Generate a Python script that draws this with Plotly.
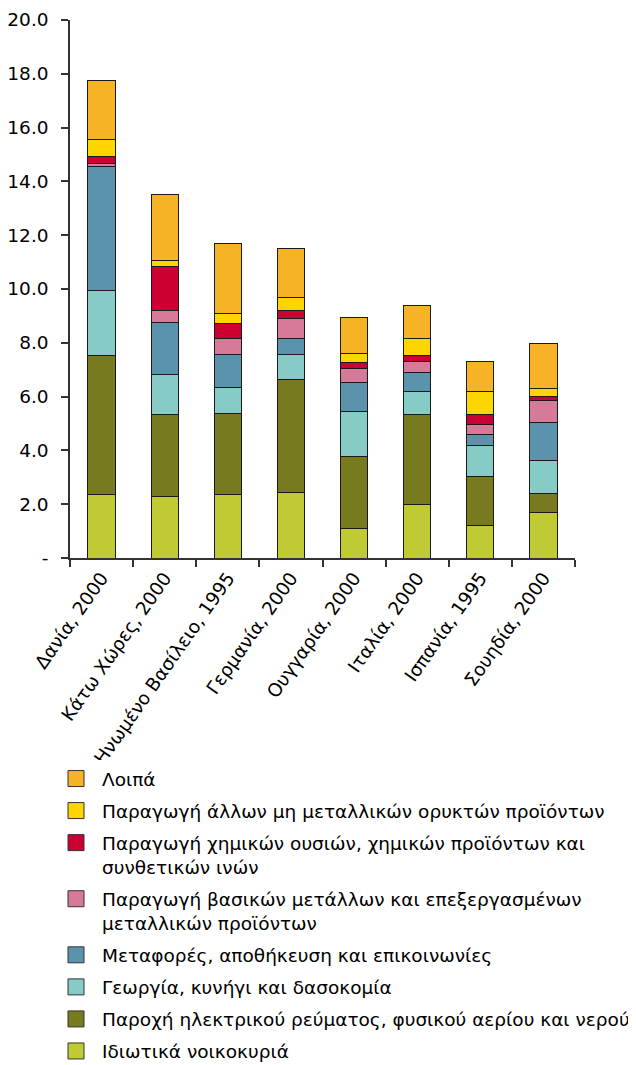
import plotly.graph_objects as go

categories = ["Δανία, 2000", "Κάτω Χώρες, 2000", "Ηνωμένο Βασίλειο, 1995", "Γερμανία, 2000",
              "Ουγγαρία, 2000", "Ιταλία, 2000", "Ισπανία, 1995", "Σουηδία, 2000"]

# stacked from bottom to top
series_names = [
    "Ιδιωτικά νοικοκυριά",
    "Παροχή ηλεκτρικού ρεύματος, φυσικού αερίου και νερού",
    "Γεωργία, κυνήγι και δασοκομία",
    "Μεταφορές, αποθήκευση και επικοινωνίες",
    "Παραγωγή βασικών μετάλλων και επεξεργασμένων<br>μεταλλικών προϊόντων",
    "Παραγωγή χημικών ουσιών, χημικών προϊόντων και<br>συνθετικών ινών",
    "Παραγωγή άλλων μη μεταλλικών ορυκτών προϊόντων",
    "Λοιπά",
]

households = [2.35, 2.29, 2.35, 2.45, 1.09, 2.00, 1.19, 1.71]
electricity = [5.16, 3.04, 3.03, 4.19, 2.67, 3.33, 1.83, 0.70]
agriculture = [2.42, 1.51, 0.97, 0.92, 1.68, 0.87, 1.15, 1.20]
transport = [4.64, 1.92, 1.20, 0.61, 1.10, 0.70, 0.41, 1.41]
basic_metals = [0.08, 0.45, 0.60, 0.74, 0.50, 0.40, 0.39, 0.82]
chemicals = [0.29, 1.63, 0.57, 0.30, 0.21, 0.22, 0.36, 0.16]
non_metallic = [0.61, 0.22, 0.36, 0.46, 0.36, 0.65, 0.87, 0.30]
other = [2.20, 2.46, 2.62, 1.84, 1.32, 1.21, 1.11, 1.67]

series_values = [households, electricity, agriculture, transport,
                 basic_metals, chemicals, non_metallic, other]

colors = ["#C0CA35", "#787A1F", "#86CBC5", "#5A93AB",
          "#D57B99", "#CC0033", "#FFD500", "#F6B325"]

y_tickvals = [0, 2, 4, 6, 8, 10, 12, 14, 16, 18, 20]
y_ticktext = ["-", "2.0", "4.0", "6.0", "8.0", "10.0", "12.0", "14.0", "16.0", "18.0", "20.0"]

FONT = "DejaVu Sans"
FS = 18.5

fig = go.Figure()
for name, vals, col in zip(series_names, series_values, colors):
    fig.add_trace(go.Bar(
        x=categories, y=vals, name=name, showlegend=False,
        marker=dict(color=col, line=dict(color="#1a1a1a", width=1)),
        width=0.43,
    ))
# legend entries (larger square symbols), top item = top of stack
for name, col in reversed(list(zip(series_names, colors))):
    fig.add_trace(go.Scatter(
        x=[None], y=[None], mode="markers", name=name,
        marker=dict(symbol="square", size=16, color=col,
                    line=dict(color="#333333", width=1)),
        showlegend=True, legendgroup=name,
    ))

fig.update_layout(
    width=636, height=1065,
    barmode="stack",
    plot_bgcolor="white", paper_bgcolor="white",
    margin=dict(l=62, r=69, t=12, b=515, autoexpand=False),
    font=dict(family=FONT, size=FS, color="#000000"),
    showlegend=True,
    legend=dict(
        xref="container", yref="container",
        x=42 / 636, y=1 - 752 / 1065, xanchor="left", yanchor="top",
        traceorder="grouped", tracegroupgap=5,
        valign="top", itemsizing="trace", itemwidth=42,
        font=dict(family=FONT, size=FS, color="#000000"),
    ),
    xaxis=dict(
        type="category", tickangle=-55, tickson="boundaries",
        ticks="outside", ticklen=7, tickcolor="#333333", tickwidth=1.5,
        showline=True, linecolor="#333333", linewidth=1.5,
        showgrid=False, tickfont=dict(family=FONT, size=FS),
    ),
    yaxis=dict(
        range=[0, 20], tickvals=y_tickvals, ticktext=y_ticktext,
        ticks="outside", ticklen=7, tickcolor="#333333", tickwidth=1.5,
        showline=True, linecolor="#333333", linewidth=1.5,
        showgrid=False, zeroline=False, ticklabelstandoff=9,
        tickfont=dict(family=FONT, size=FS),
    ),
)

fig.write_html("out.html")
